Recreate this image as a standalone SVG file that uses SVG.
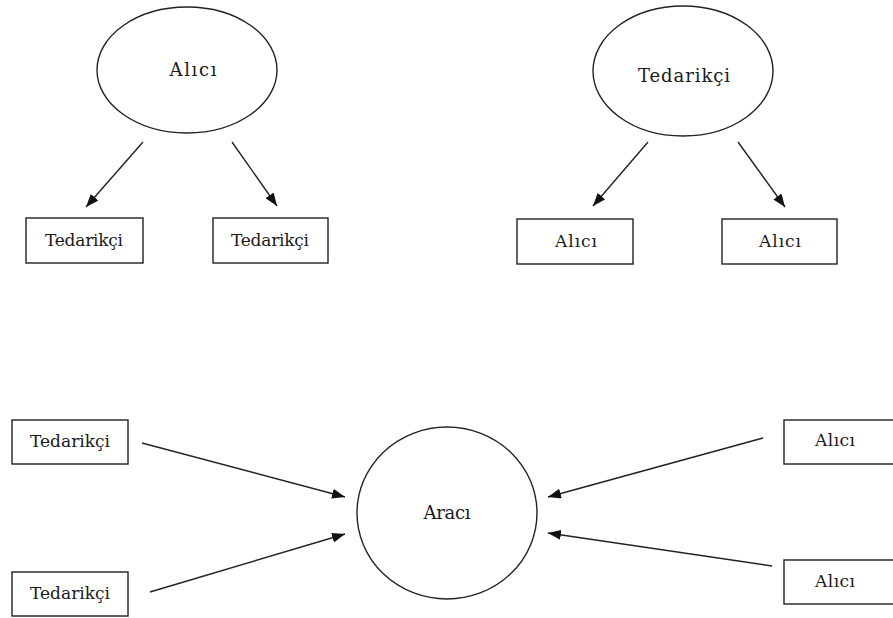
<svg xmlns="http://www.w3.org/2000/svg" width="893" height="618" viewBox="0 0 893 618">
  <style>
    .shape { fill: #fff; stroke: #222; stroke-width: 1.4; }
    .lbl { font-family: "DejaVu Serif", "Liberation Serif", serif; fill: #1a1a1a; text-anchor: middle; }
    .big { font-size: 18px; }
    .small { font-size: 17px; }
    .edge { stroke: #222; stroke-width: 1.4; fill: none; marker-end: url(#arrow); }
  </style>
  <defs>
    <marker id="arrow" viewBox="0 0 13 10" refX="13" refY="5" markerWidth="13" markerHeight="10" markerUnits="userSpaceOnUse" orient="auto">
      <path d="M0,0 L13,5 L0,10 z" fill="#111"/>
    </marker>
  </defs>
  <rect width="893" height="618" fill="#fff"/>

  <!-- top-left: buyer with two suppliers -->
  <g id="buyer-hub">
    <ellipse class="shape" cx="187" cy="70" rx="90" ry="63"/>
    <text class="lbl big" x="193" y="76" textLength="47">Alıcı</text>
  </g>
  <g id="supplier-a1">
    <rect class="shape" x="26" y="218" width="117" height="45"/>
    <text class="lbl small" x="84" y="246" textLength="78">Tedarikçi</text>
  </g>
  <g id="supplier-a2">
    <rect class="shape" x="213" y="218" width="115" height="45"/>
    <text class="lbl small" x="270" y="246" textLength="78">Tedarikçi</text>
  </g>

  <!-- top-right: supplier with two buyers -->
  <g id="supplier-hub">
    <ellipse class="shape" cx="683" cy="71" rx="90" ry="65"/>
    <text class="lbl big" x="684" y="82" textLength="92">Tedarikçi</text>
  </g>
  <g id="buyer-b1">
    <rect class="shape" x="517" y="219" width="116" height="45"/>
    <text class="lbl small" x="576" y="247" textLength="42">Alıcı</text>
  </g>
  <g id="buyer-b2">
    <rect class="shape" x="722" y="219" width="115" height="45"/>
    <text class="lbl small" x="780" y="247" textLength="42">Alıcı</text>
  </g>

  <!-- bottom: intermediary between suppliers and buyers -->
  <g id="intermediary">
    <ellipse class="shape" cx="447" cy="513" rx="90" ry="86"/>
    <text class="lbl big" x="447" y="519" textLength="47">Aracı</text>
  </g>
  <g id="supplier-c1">
    <rect class="shape" x="12" y="420" width="116" height="44"/>
    <text class="lbl small" x="70" y="447" textLength="80">Tedarikçi</text>
  </g>
  <g id="supplier-c2">
    <rect class="shape" x="12" y="572" width="116" height="44"/>
    <text class="lbl small" x="70" y="599" textLength="80">Tedarikçi</text>
  </g>
  <!-- right-hand boxes run past the canvas edge -->
  <g id="buyer-c1">
    <rect class="shape" x="784" y="420" width="120" height="44"/>
    <text class="lbl small" x="835" y="446" textLength="40">Alıcı</text>
  </g>
  <g id="buyer-c2">
    <rect class="shape" x="784" y="560" width="120" height="44"/>
    <text class="lbl small" x="835" y="587" textLength="40">Alıcı</text>
  </g>

  <g id="connectors">
    <line class="edge" x1="143" y1="142" x2="86" y2="207"/>
    <line class="edge" x1="232" y1="142" x2="277" y2="206"/>
    <line class="edge" x1="648" y1="142" x2="593" y2="206"/>
    <line class="edge" x1="738" y1="142" x2="785" y2="207"/>
    <line class="edge" x1="142" y1="443" x2="345" y2="497"/>
    <line class="edge" x1="150" y1="592" x2="345" y2="534"/>
    <line class="edge" x1="763" y1="438" x2="548" y2="497"/>
    <line class="edge" x1="772" y1="566" x2="548" y2="533"/>
  </g>
</svg>
